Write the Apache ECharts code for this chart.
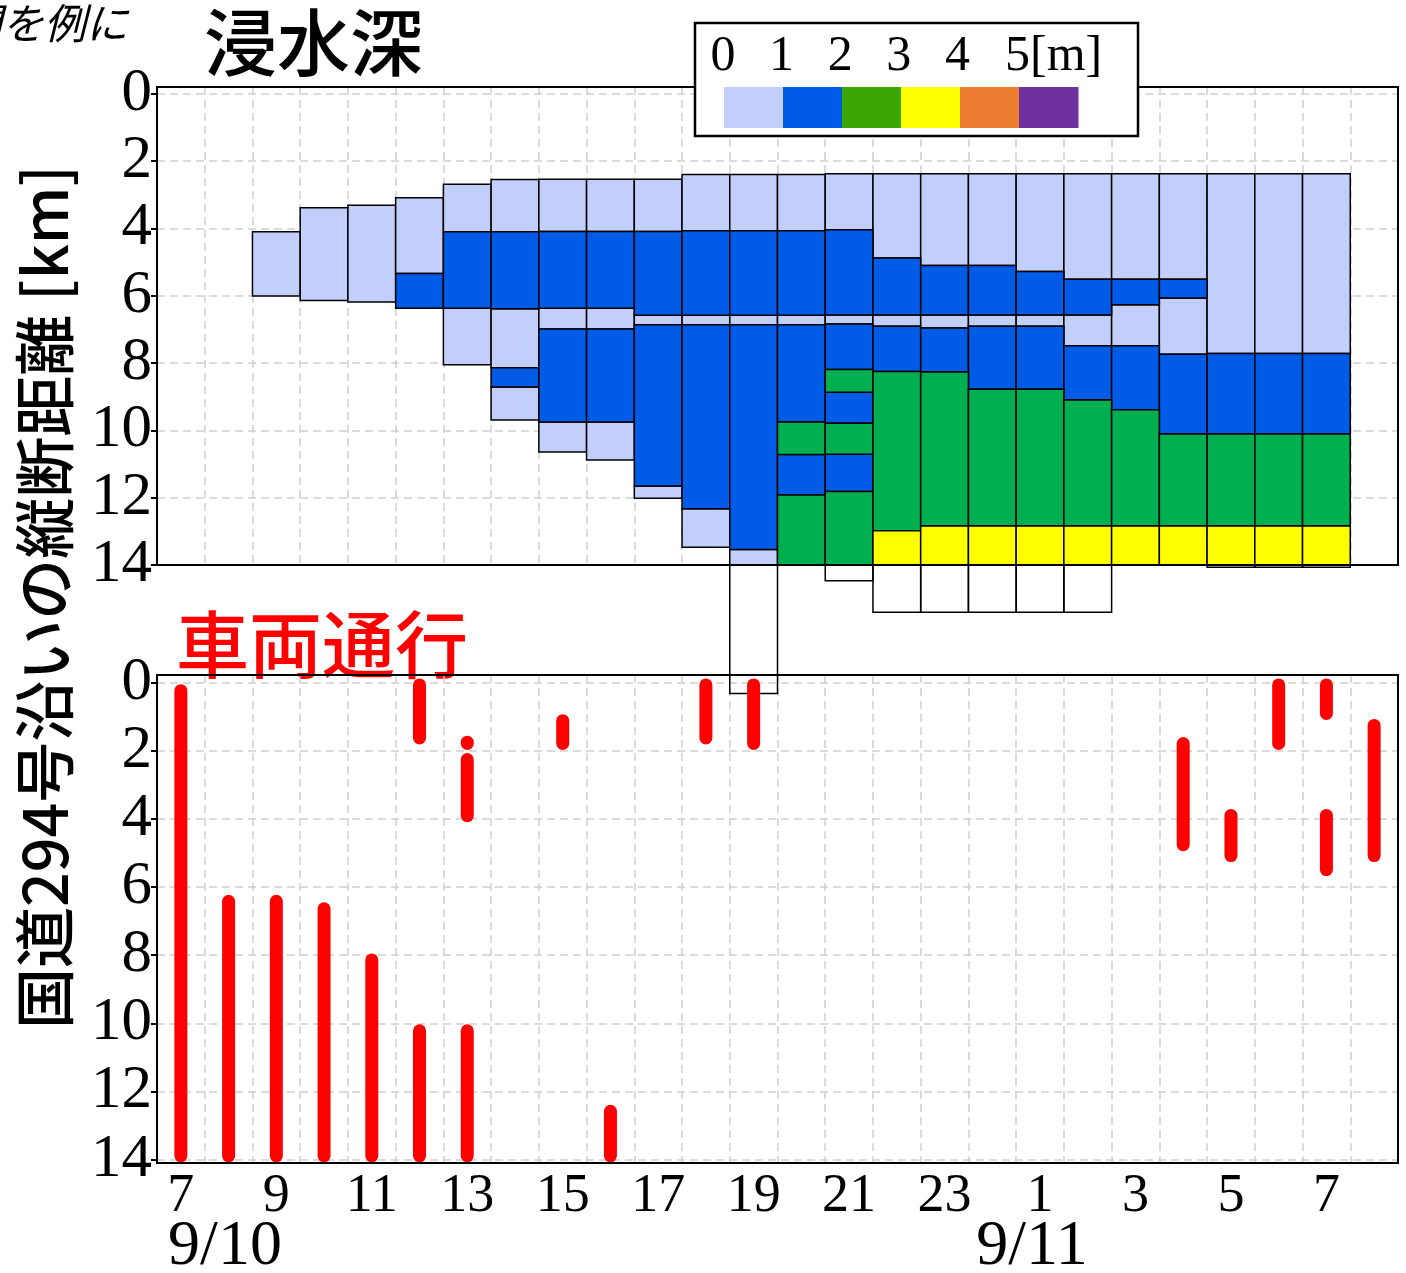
<!DOCTYPE html>
<html><head><meta charset="utf-8">
<script src="https://cdn.jsdelivr.net/npm/echarts@6/dist/echarts.min.js"></script>
<style>html,body{margin:0;padding:0;background:#fff}#c{width:1406px;height:1273px}</style>
</head><body><div id="c"></div><script>
// time slots (hourly), 9/10 07:00 → 9/11 08:00
const slots = ['10日7時','10日8時','10日9時','10日10時','10日11時','10日12時','10日13時','10日14時','10日15時','10日16時','10日17時','10日18時','10日19時','10日20時','10日21時','10日22時','10日23時','11日0時','11日1時','11日2時','11日3時','11日4時','11日5時','11日6時','11日7時','11日8時'];
const hourLabels = ['7','8','9','10','11','12','13','14','15','16','17','18','19','20','21','22','23','0','1','2','3','4','5','6','7','8'];
const dateLabels = ['9/10','9/11'];
const yTicks = [0,2,4,6,8,10,12,14];
const legendLabels = ['0','1','2','3','4','5[m]'];
const legendColors = ['#C3CFFB','#005CE6','#3CA604','#FFFF00','#ED7D31','#7030A0'];

// flood depth segments: [slot, from km, to km]
const depth0to1 = [
 ['10日9時',4.10,6.01],['10日10時',3.39,6.14],['10日11時',3.31,6.19],['10日12時',3.09,5.34],
 ['10日13時',2.69,4.10],['10日13時',6.37,8.05],
 ['10日14時',2.55,4.10],['10日14時',6.39,8.14],['10日14時',8.71,9.69],
 ['10日15時',2.54,4.09],['10日15時',6.37,6.99],['10日15時',9.75,10.64],
 ['10日16時',2.54,4.09],['10日16時',6.37,6.99],['10日16時',9.75,10.88],
 ['10日17時',2.54,4.09],['10日17時',6.58,6.86],['10日17時',11.65,12.02],
 ['10日18時',2.40,4.07],['10日18時',6.58,6.86],['10日18時',12.33,13.47],
 ['10日19時',2.40,4.07],['10日19時',6.58,6.86],['10日19時',13.54,14.0],
 ['10日20時',2.40,4.07],['10日20時',6.58,6.86],
 ['10日21時',2.38,4.04],['10日21時',6.57,6.84],
 ['10日22時',2.38,4.88],['10日22時',6.57,6.91],
 ['10日23時',2.38,5.10],['10日23時',6.57,6.96],
 ['11日0時',2.38,5.10],['11日0時',6.57,6.91],
 ['11日1時',2.38,5.28],['11日1時',6.57,6.91],
 ['11日2時',2.38,5.51],['11日2時',6.57,7.49],
 ['11日3時',2.38,5.51],['11日3時',6.27,7.49],
 ['11日4時',2.38,5.51],['11日4時',6.07,7.74],
 ['11日5時',2.38,7.72],['11日6時',2.38,7.72],['11日7時',2.38,7.72]
];
const depth1to2 = [
 ['10日12時',5.34,6.37],['10日13時',4.10,6.37],
 ['10日14時',4.10,6.39],['10日14時',8.14,8.71],
 ['10日15時',4.09,6.37],['10日15時',6.99,9.75],
 ['10日16時',4.09,6.37],['10日16時',6.99,9.75],
 ['10日17時',4.09,6.58],['10日17時',6.86,11.65],
 ['10日18時',4.07,6.58],['10日18時',6.86,12.33],
 ['10日19時',4.07,6.58],['10日19時',6.86,13.54],
 ['10日20時',4.07,6.58],['10日20時',6.86,9.75],['10日20時',10.72,11.92],
 ['10日21時',4.04,6.57],['10日21時',6.84,8.19],['10日21時',8.87,9.79],['10日21時',10.71,11.82],
 ['10日22時',4.88,6.57],['10日22時',6.91,8.25],
 ['10日23時',5.10,6.57],['10日23時',6.96,8.27],
 ['11日0時',5.10,6.57],['11日0時',6.91,8.78],
 ['11日1時',5.28,6.57],['11日1時',6.91,8.78],
 ['11日2時',5.51,6.57],['11日2時',7.49,9.10],
 ['11日3時',5.51,6.27],['11日3時',7.49,9.39],
 ['11日4時',5.51,6.07],['11日4時',7.74,10.11],
 ['11日5時',7.72,10.11],['11日6時',7.72,10.11],['11日7時',7.72,10.11]
];
const depth2to3 = [
 ['10日20時',9.75,10.72],['10日20時',11.92,14.0],
 ['10日21時',8.19,8.87],['10日21時',9.79,10.71],['10日21時',11.82,14.0],
 ['10日22時',8.25,12.98],['10日23時',8.27,12.84],
 ['11日0時',8.78,12.84],['11日1時',8.78,12.84],['11日2時',9.10,12.84],
 ['11日3時',9.39,12.84],['11日4時',10.11,12.84],
 ['11日5時',10.11,12.84],['11日6時',10.11,12.84],['11日7時',10.11,12.84]
];
const depth3to4 = [
 ['10日22時',12.98,14.0],['10日23時',12.84,14.0],['11日0時',12.84,14.0],['11日1時',12.84,14.0],
 ['11日2時',12.84,14.0],['11日3時',12.84,14.0],['11日4時',12.84,14.0],
 ['11日5時',12.84,14.0],['11日6時',12.84,14.0],['11日7時',12.84,14.0]
];
const depthOutside = [
 ['10日19時',14.0,17.82],['10日21時',14.0,14.47],
 ['10日22時',14.0,15.40],['10日23時',14.0,15.40],['11日0時',14.0,15.40],['11日1時',14.0,15.40],['11日2時',14.0,15.40],
 ['11日5時',14.0,14.07],['11日6時',14.0,14.07],['11日7時',14.0,14.07]
];
// vehicle passage ranges: [slot, from km, to km]
const vehicleRuns = [
 ['10日7時',0.05,14.08],['10日8時',6.23,14.08],['10日9時',6.23,14.08],['10日10時',6.45,14.08],
 ['10日11時',7.95,14.08],['10日12時',-0.12,1.82],['10日12時',10.03,14.08],
 ['10日13時',1.56,1.98],['10日13時',2.07,4.10],['10日13時',10.03,14.08],
 ['10日15時',0.93,1.98],['10日16時',12.39,14.08],
 ['10日18時',-0.12,1.82],['10日19時',-0.12,1.98],
 ['11日4時',1.60,4.95],['11日5時',3.71,5.27],['11日6時',-0.12,1.98],
 ['11日7時',-0.12,1.10],['11日7時',3.71,5.68],['11日8時',1.07,5.27]
];

const idx = s => slots.indexOf(s);
const toData = arr => arr.map(r => [idx(r[0]), r[1], r[2]]);

const gridLine = {show:true, interval:0, lineStyle:{color:'#cfcfcf', width:1.5, type:[8,5]}};
const blackLine = {show:true, onZero:false, lineStyle:{color:'#000', width:2}};
const serif = 'Liberation Serif, Times New Roman, serif';
const jp = 'Noto Sans CJK JP, sans-serif';

function depthSeries(arr, fill, z){
  return {
    type:'custom', xAxisIndex:0, yAxisIndex:0, clip:false, z:z,
    encode:{x:0, y:[1,2]},
    data: toData(arr),
    renderItem: function(params, api){
      const i = api.value(0);
      const p0 = api.coord([i, api.value(1)]);
      const p1 = api.coord([i, api.value(2)]);
      const w = api.size([1,0])[0];
      return {type:'rect', shape:{x:p0[0]-w/2, y:p0[1], width:w, height:p1[1]-p0[1]},
        style:{fill:fill, stroke:'#000', lineWidth:1.5}};
    }
  };
}

const graphics = [];
graphics.push({type:'text', style:{text:'区間を例に', x:-82, y:23, verticalAlign:'middle', font:'italic 42px '+jp, fill:'#000'}});
graphics.push({type:'text', style:{text:'浸水深', x:204, y:42, verticalAlign:'middle', font:'500 73px '+jp, fill:'#000'}});
graphics.push({type:'text', style:{text:'車両通行', x:176, y:644, verticalAlign:'middle', font:'500 73px '+jp, fill:'#ff0000'}});
graphics.push({type:'text', rotation:Math.PI/2, x:45, y:597, style:{text:'国道294号沿いの縦断距離 [km]', x:0, y:0, align:'center', verticalAlign:'middle', font:'500 61px '+jp, fill:'#000'}});
graphics.push({type:'text', style:{text:dateLabels[0], x:225, y:1247, align:'center', verticalAlign:'middle', font:'64px '+serif, fill:'#000'}});
graphics.push({type:'text', style:{text:dateLabels[1], x:1032, y:1247, align:'center', verticalAlign:'middle', font:'64px '+serif, fill:'#000'}});
// panel frames on top of grid lines
graphics.push({type:'rect', z:50, silent:true, shape:{x:157, y:87, width:1241, height:478}, style:{fill:'none', stroke:'#000', lineWidth:2}});
graphics.push({type:'rect', z:50, silent:true, shape:{x:157, y:675, width:1241, height:488}, style:{fill:'none', stroke:'#000', lineWidth:2}});
// legend
graphics.push({type:'rect', z:100, shape:{x:695, y:23, width:443, height:113}, style:{fill:'#fff', stroke:'#000', lineWidth:2.5}});
legendColors.forEach((c,i)=>{
  graphics.push({type:'rect', z:101, shape:{x:724+i*59, y:87, width:59.5, height:41}, style:{fill:c}});
});
legendLabels.forEach((t,i)=>{
  const last = i === legendLabels.length-1;
  graphics.push({type:'text', z:101, style:{text:t, x:last ? 1005 : 723+i*58.6, y:57, align:last?'left':'center', verticalAlign:'middle', font:'50px '+serif, fill:'#000'}});
});

const option = {
  backgroundColor:'#fff',
  animation:false,
  grid:[
    {left:157, right:8, top:87, height:478, show:false},
    {left:157, right:8, top:675, height:488, show:false}
  ],
  xAxis:[
    {gridIndex:0, type:'category', data:slots, boundaryGap:true, axisLine:blackLine, axisTick:{show:false}, axisLabel:{show:false}, splitLine:gridLine},
    {gridIndex:1, type:'category', data:slots, boundaryGap:true, axisLine:blackLine, axisTick:{show:false},
     axisLabel:{show:true, interval:(i)=> i%2===0, formatter:(v,i)=>hourLabels[i], fontFamily:serif, fontSize:54, color:'#000', margin:7},
     splitLine:gridLine}
  ],
  yAxis:[
    {gridIndex:0, type:'value', inverse:true, min:-0.2, max:14,
     axisLine:blackLine, axisTick:{show:true, customValues:yTicks, length:6, lineStyle:{color:'#000', width:2}},
     axisLabel:{customValues:yTicks, fontFamily:serif, fontSize:61, color:'#000', margin:5},
     splitLine:{show:true, lineStyle:{color:'#cfcfcf', width:1.5, type:[8,5]}}},
    {gridIndex:1, type:'value', inverse:true, min:-0.22, max:14.1,
     axisLine:blackLine, axisTick:{show:true, customValues:yTicks, length:6, lineStyle:{color:'#000', width:2}},
     axisLabel:{customValues:yTicks, fontFamily:serif, fontSize:61, color:'#000', margin:5},
     splitLine:{show:true, lineStyle:{color:'#cfcfcf', width:1.5, type:[8,5]}}}
  ],
  series:[
    depthSeries(depth0to1, '#C3CFFB', 3),
    depthSeries(depth1to2, '#005CE6', 3),
    depthSeries(depth2to3, '#00AF50', 3),
    depthSeries(depth3to4, '#FFFF00', 3),
    depthSeries(depthOutside, 'rgba(255,255,255,0)', 3),
    {type:'custom', xAxisIndex:1, yAxisIndex:1, z:5, clip:false, encode:{x:0, y:[1,2]},
     data: toData(vehicleRuns),
     renderItem:function(params, api){
       const i = api.value(0);
       const p0 = api.coord([i, api.value(1)]);
       const p1 = api.coord([i, api.value(2)]);
       const w = 13;
       return {type:'rect', shape:{x:p0[0]-w/2, y:p0[1], width:w, height:p1[1]-p0[1], r:w/2},
         style:{fill:'#ff0000'}};
     }}
  ],
  graphic: graphics
};
const chart = echarts.init(document.getElementById('c'), null, {renderer:'canvas'});
chart.setOption(option);
</script></body></html>
